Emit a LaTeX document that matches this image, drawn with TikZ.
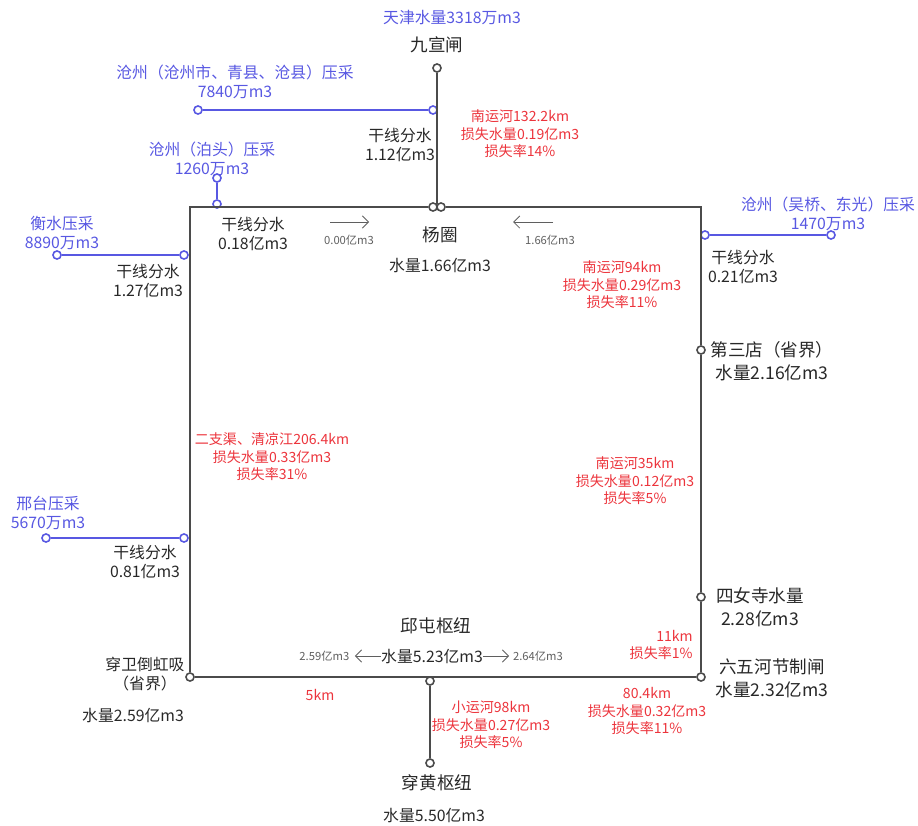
\documentclass[tikz,border=0pt]{standalone}
\usepackage{fontspec}
\setmainfont{Noto Sans CJK SC}
\usetikzlibrary{positioning,arrows.meta}
\definecolor{linegray}{RGB}{75,75,75}
\definecolor{txtgray}{RGB}{40,40,40}
\definecolor{lossred}{RGB}{236,52,60}
\definecolor{yacai}{RGB}{88,88,226}
\definecolor{flowgray}{RGB}{95,95,95}
\tikzset{
  pipe/.style={draw=linegray, line width=1.3pt},
  bpipe/.style={draw=yacai, line width=1.1pt},
  stn/.style={circle, draw=linegray, fill=white, line width=0.9pt, inner sep=0pt, minimum size=4.6pt},
  bstn/.style={stn, draw=yacai},
  stnlbl/.style={text=txtgray, font=\fontsize{10}{13}\selectfont, align=center, inner sep=0pt},
  lbl/.style={text=txtgray, font=\fontsize{9}{11}\selectfont, align=center, inner sep=0pt},
  blbl/.style={text=yacai, font=\fontsize{9}{10.8}\selectfont, align=center, inner sep=0pt},
  rlbl/.style={text=lossred, font=\fontsize{8}{10}\selectfont, align=center, inner sep=0pt},
  slbl/.style={text=flowgray, font=\fontsize{6.4}{7}\selectfont, inner sep=0pt},
  flow/.style={draw=flowgray, line width=0.5pt, -{Straight Barb[length=3.5pt,width=7pt]}}
}
\newcommand{\fenshui}[3]{\node[lbl] (#1) at (#2) {干线分水\\#3};}

\begin{document}
\begin{tikzpicture}[x=0.02cm, y=-0.02cm]
\useasboundingbox (0,0) rectangle (918,825);

% stations on the main line
\node[stn] (jxz) at (437,68) {};
\node[stn] (yqA) at (433,207) {};
\node[stn] (yqB) at (441,207) {};
\coordinate (yqM) at (437,204);
\coordinate (tl) at (190,207);
\coordinate (tr) at (701,207);
\node[stn] (dsd) at (701,350) {};
\node[stn] (snsi) at (701,597) {};
\node[stn] (lwh) at (701,677) {};
\node[stn] (cwd) at (190,677) {};
\node[stn] (chzA) at (430,681) {};
\node[stn] (chzB) at (430,763) {};

% branches
\node[bstn] (czA) at (198,110) {};
\node[bstn] (czB) at (433,110) {};
\node[bstn] (btA) at (217,178) {};
\node[bstn] (btB) at (217,204) {};
\node[bstn] (hsA) at (57,255) {};
\node[bstn] (hsB) at (184,255) {};
\node[bstn] (wqA) at (705,235) {};
\node[bstn] (wqB) at (831,235) {};
\node[bstn] (xtA) at (46,538) {};
\node[bstn] (xtB) at (184,538) {};

\draw[pipe] (jxz) -- (yqM);
\draw[pipe] (yqA) -- (tl) -- (cwd);
\draw[pipe] (yqB) -- (tr) -- (dsd);
\draw[pipe] (dsd) -- (snsi);
\draw[pipe] (snsi) -- (lwh);
\draw[pipe] (cwd) -- (lwh);
\draw[pipe] (chzA) -- (chzB);

\draw[bpipe] (czA) -- (czB);
\draw[bpipe] (btA) -- (btB);
\draw[bpipe] (hsA) -- (hsB);
\draw[bpipe] (wqA) -- (wqB);
\draw[bpipe] (xtA) -- (xtB);

% yacai labels
\node[blbl] (tj) at (452,18) {天津水量3318万m3};
\node[blbl] (czT) at (235,82) {沧州（沧州市、青县、沧县）压采\\7840万m3};
\node[blbl] (btT) at (212,159) {沧州（泊头）压采\\1260万m3};
\node[blbl] (hsT) at (62,233) {衡水压采\\8890万m3};
\node[blbl] (wqT) at (828,214) {沧州（吴桥、东光）压采\\1470万m3};
\node[blbl] (xtT) at (48,513) {邢台压采\\5670万m3};

% station labels
\node[stnlbl] (jxzT) at (437,45) {九宣闸};
\node[stnlbl] (yqT) at (440,250) {杨圈\\[4pt]\fontsize{9}{11}\selectfont 水量1.66亿m3};
\node[stnlbl] (dsdT) at (772,361) {第三店（省界）\\水量2.16亿m3};
\node[stnlbl] (snsiT) at (760,607) {四女寺水量\\2.28亿m3};
\node[stnlbl] (qtT) at (436,626) {邱屯枢纽};
\node[lbl] (qtW) at (432,656) {水量5.23亿m3};
\node[stnlbl] (lwhT) at (772,678) {六五河节制闸\\水量2.32亿m3};
\node[lbl] (cwdT) at (145,674) {穿卫倒虹吸\\（省界）};
\node[lbl] (cwdW) at (133,715) {水量2.59亿m3};
\node[stnlbl] (chzT) at (437,783) {穿黄枢纽};
\node[lbl] (chzW) at (434,815) {水量5.50亿m3};

\fenshui{fsA}{400,145}{1.12亿m3}
\fenshui{fsB}{253,234}{0.18亿m3}
\fenshui{fsC}{148,281}{1.27亿m3}
\fenshui{fsD}{743,267}{0.21亿m3}
\fenshui{fsE}{145,562}{0.81亿m3}

% losses
\node[rlbl] (lsA) at (520,134) {南运河132.2km\\损失水量0.19亿m3\\损失率14\%};
\node[rlbl] (lsB) at (622,285) {南运河94km\\损失水量0.29亿m3\\损失率11\%};
\node[rlbl] (lsC) at (272,457) {二支渠、清凉江206.4km\\损失水量0.33亿m3\\损失率31\%};
\node[rlbl] (lsD) at (635,481) {南运河35km\\损失水量0.12亿m3\\损失率5\%};
\node[rlbl, align=right, anchor=east] (lsE) at (693,645) {11km\\损失率1\%};
\node[rlbl] (lsF) at (320,695) {5km};
\node[rlbl] (lsG) at (491,725) {小运河98km\\损失水量0.27亿m3\\损失率5\%};
\node[rlbl] (lsH) at (647,711) {80.4km\\损失水量0.32亿m3\\损失率11\%};

% flow arrows
\coordinate (faA) at (330,222); \coordinate (faB) at (369,222);
\coordinate (fbA) at (553,222); \coordinate (fbB) at (513,222);
\draw[flow] (faA) -- (faB);
\draw[flow] (fbA) -- (fbB);
\node[slbl] (fa) at (349,240) {0.00亿m3};
\node[slbl] (fb) at (550,240) {1.66亿m3};
\draw[flow] (qtW.west) -- ++(-26,0) coordinate (fcB);
\draw[flow] (qtW.east) -- ++(26,0) coordinate (fdB);
\node[slbl, left=3pt of fcB] (fc) {2.59亿m3};
\node[slbl, right=2pt of fdB] (fd) {2.64亿m3};
\end{tikzpicture}
\end{document}
